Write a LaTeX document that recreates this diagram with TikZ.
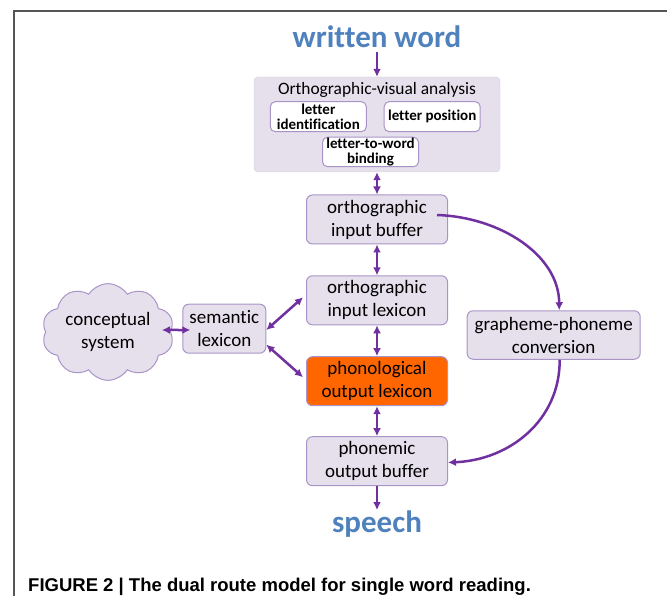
\documentclass[tikz,border=0pt]{standalone}
\usepackage{fontspec}
\setmainfont{Carlito}[Ligatures={NoCommon}]
\newfontfamily\capfont{Liberation Sans}
\usetikzlibrary{arrows.meta,shapes.symbols}
\definecolor{boxfill}{HTML}{E6E0EC}
\definecolor{boxline}{HTML}{A994C8}
\definecolor{ovaline}{HTML}{D6CCE2}
\definecolor{arrowc}{HTML}{7030A0}
\definecolor{bluetxt}{HTML}{4F81BD}
\definecolor{orangefill}{HTML}{FF6600}
\definecolor{framec}{HTML}{555555}
\begin{document}
\begin{tikzpicture}[x=1pt,y=-1pt,
 box/.style={draw=boxline, fill=boxfill, line width=1pt, rounded corners=6pt, align=center, inner sep=0pt, minimum width=141pt, minimum height=49pt, font=\fontsize{19}{23}\selectfont},
 smallbox/.style={draw=boxline, fill=white, line width=1pt, rounded corners=5pt, align=center, inner sep=0pt, minimum width=96pt, minimum height=30pt, font=\bfseries\fontsize{15}{15}\selectfont},
 arr/.style={draw=arrowc, line width=2.5pt, -{Latex[length=8pt,width=8pt]}},
 darr/.style={draw=arrowc, line width=2.5pt, {Latex[length=8pt,width=8pt]}-{Latex[length=8pt,width=8pt]}},
 bigtext/.style={text=bluetxt, font=\bfseries\fontsize{31}{31}\selectfont, inner sep=0pt}
]
\useasboundingbox (0,0) rectangle (667,596);
\draw[framec, line width=1.3pt] (14,596) -- (14,11) -- (667,11);

\node[bigtext, anchor=base] (ww) at (377,48) {written word};
\node[draw=ovaline, fill=boxfill, rounded corners=4pt, minimum width=246pt, minimum height=95pt, inner sep=0pt] (ova) at (377,124.5) {};
\node[font=\fontsize{17.4}{20}\selectfont, anchor=base, inner sep=0pt] (ovat) at (377,95) {Orthographic-visual analysis};
\node[smallbox] (lid) at (318.3,116.7) {letter\\identification};
\node[smallbox] (lpos) at (432.2,116.7) {letter position};
\node[smallbox, minimum height=29.5pt] (ltw) at (370.5,152) {letter-to-word\\binding};

\node[box] (oib) at (377,219.5) {orthographic\\input buffer};
\node[box] (oil) at (377,300.3) {orthographic\\input lexicon};
\node[box, fill=orangefill] (pol) at (377,381.2) {phonological\\output lexicon};
\node[box] (pob) at (377,461.2) {phonemic\\output buffer};
\node[box, minimum width=173pt, minimum height=48.5pt] (gpc) at (553.7,335) {grapheme-phoneme\\conversion};
\node[box, minimum width=83pt] (sem) at (224.3,328.7) {semantic\\lexicon};
\node[cloud, cloud puffs=10, cloud puff arc=115, aspect=1.5, draw=boxline, fill=boxfill, line width=1pt, minimum width=132pt, minimum height=88pt, inner sep=0pt, align=center, font=\fontsize{19}{23}\selectfont] (cloud) at (108,332) {conceptual\\system};
\node[bigtext, anchor=base] (sp) at (377,532) {speech};

\node[anchor=base west, inner sep=0pt, font=\capfont\bfseries\fontsize{18.5}{18.5}\selectfont] (cap) at (28,591) {FIGURE 2 | The dual route model for single word reading.};

\draw[arr, shorten <=4pt] (ww) -- (ova);
\draw[darr] (ova) -- (oib);
\draw[darr] (oib) -- (oil);
\draw[darr] (oil) -- (pol);
\draw[darr] (pol) -- (pob);
\draw[arr] (pob) -- (sp);
\draw[arr] ([xshift=-11pt,yshift=4.5pt]oib.east) .. controls (500,217) and (559,255) .. ([xshift=5.5pt]gpc.north);
\draw[arr] ([xshift=6pt]gpc.south) .. controls (560,420) and (510,460) .. ([yshift=-1.3pt]pob.east);
\draw[darr] ([xshift=-9pt,yshift=2pt]cloud.east) -- ([xshift=8pt,yshift=-1.3pt]sem.west);
\draw[darr] ([yshift=-1.3pt]sem.east) -- ([xshift=-3pt,yshift=3pt]oil.west);
\draw[darr] ([yshift=-16pt]sem.east) -- ([xshift=-3pt,yshift=4pt]pol.west);
\end{tikzpicture}
\end{document}
